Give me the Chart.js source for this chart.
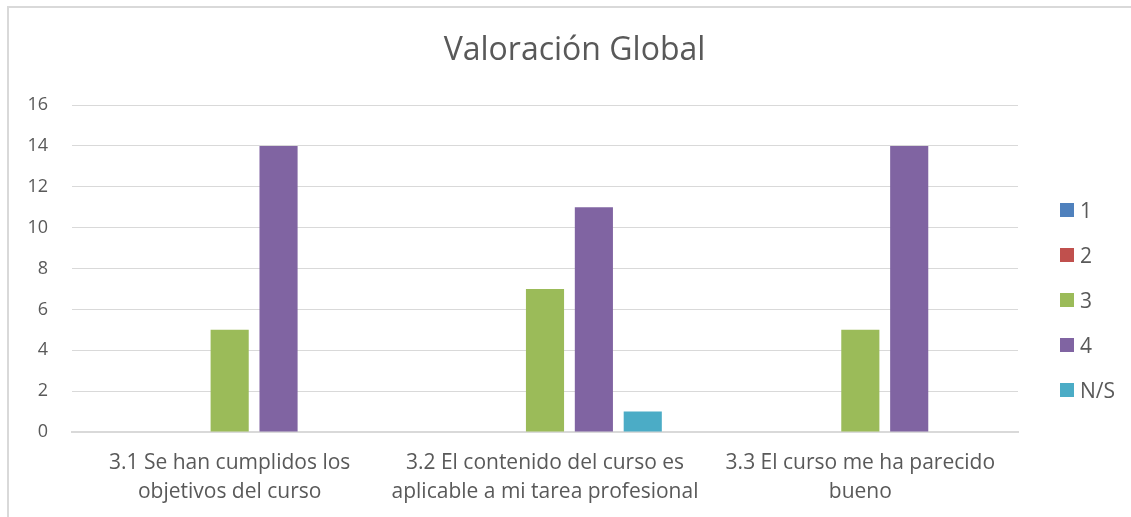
<!DOCTYPE html>
<html>
<head>
<meta charset="utf-8">
<title>Valoración Global</title>
<script src="https://cdn.jsdelivr.net/npm/chart.js@4"></script>
<style>
    body { margin: 0; background: #fff; }
    #wrap { position: relative; width: 1131px; height: 517px; overflow: hidden; font-family: "Open Sans", sans-serif; }
    #frame { position: absolute; left: 7px; top: 6px; width: 1200px; height: 600px;
             border-left: 2px solid #d9d9d9; border-top: 2px solid #d9d9d9; }
    #chart { position: absolute; left: 0; top: 0; }
    #legend { position: absolute; left: 1060px; top: 0; }
    .item { position: absolute; left: 0; height: 24px; display: flex; align-items: center; white-space: nowrap;
            color: #595959; font-size: 21px; }
    .box { width: 14px; height: 14px; margin-right: 6px; }
</style>
</head>
<body>
<div id="wrap">
    <div id="frame"></div>
    <canvas id="chart" width="1131" height="517"></canvas>
    <div id="legend"></div>
</div>
<script>
// Data
const categories = [
    ['3.1 Se han cumplidos los', 'objetivos del curso'],
    ['3.2 El contenido del curso es', 'aplicable a mi tarea profesional'],
    ['3.3 El curso me ha parecido', 'bueno']
];
const seriesNames = ['1', '2', '3', '4', 'N/S'];
const seriesColors = ['#4f81bd', '#c0504d', '#9bbb59', '#8064a2', '#4bacc6'];
const values1 = [0, 0, 0];
const values2 = [0, 0, 0];
const values3 = [5, 7, 5];
const values4 = [14, 11, 14];
const valuesNS = [0, 1, 0];
const yTicks = [0, 2, 4, 6, 8, 10, 12, 14, 16];

const textColor = '#595959';
const gridColor = '#d9d9d9';
const seriesValues = [values1, values2, values3, values4, valuesNS];

const chart = new Chart(document.getElementById('chart'), {
    type: 'bar',
    data: {
        labels: categories,
        datasets: seriesNames.map((name, i) => ({
            label: name,
            data: seriesValues[i],
            backgroundColor: seriesColors[i],
            borderWidth: 0,
            categoryPercentage: 0.775,
            barPercentage: 0.78
        }))
    },
    options: {
        responsive: false,
        animation: false,
        layout: { padding: { left: 18, right: 0, top: 0, bottom: 0 } },
        plugins: {
            legend: { display: false },
            tooltip: { enabled: false },
            title: {
                display: true,
                text: 'Valoración Global',
                color: textColor,
                font: { family: '"Open Sans", sans-serif', size: 32, weight: 'normal' },
                padding: { top: 32, bottom: 34.6 }
            }
        },
        scales: {
            x: {
                grid: { display: false, drawTicks: false },
                border: { display: true, color: gridColor, width: 2 },
                ticks: {
                    color: textColor,
                    maxRotation: 0,
                    autoSkip: false,
                    padding: 17,
                    font: { family: '"Open Sans", sans-serif', size: 21, lineHeight: 1.38 }
                },
                afterFit: s => { s.height = 85; }
            },
            y: {
                min: yTicks[0],
                max: yTicks[yTicks.length - 1],
                afterBuildTicks: s => { s.ticks = yTicks.map(v => ({ value: v })); },
                grid: { color: gridColor, lineWidth: 1, drawTicks: false },
                border: { display: false },
                ticks: {
                    color: textColor,
                    padding: 24,
                    font: { family: '"Open Sans", sans-serif', size: 18 }
                },
                afterFit: s => { s.width = 54; }
            },
            // empty right-hand axis: keeps room for the legend
            yRight: {
                position: 'right',
                display: true,
                grid: { display: false, drawTicks: false },
                border: { display: false },
                ticks: { display: false },
                afterFit: s => { s.width = 113; }
            }
        }
    }
});

// Legend on the right, built from the series arrays
const legend = document.getElementById('legend');
const legendTop = 210, legendStep = 45;
seriesNames.forEach((name, i) => {
    const item = document.createElement('div');
    item.className = 'item';
    item.style.top = (legendTop + i * legendStep - 12) + 'px';
    item.innerHTML = '<span class="box" style="background:' + seriesColors[i] + '"></span>' + name;
    legend.appendChild(item);
});
</script>
</body>
</html>
